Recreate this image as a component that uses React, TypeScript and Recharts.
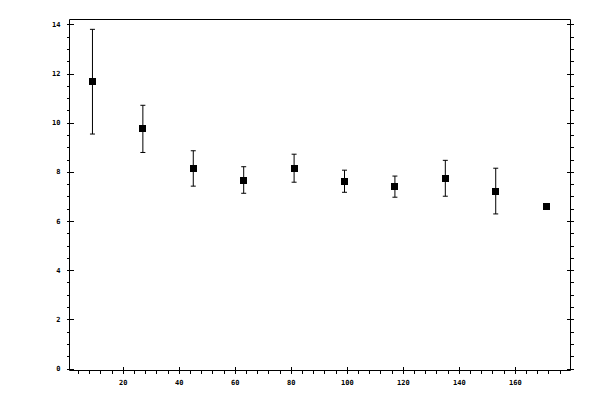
import React from 'react';
import { ScatterChart, Scatter, XAxis, YAxis, ErrorBar } from 'recharts';

const xValues = [9, 27, 45, 63, 81, 99, 117, 135, 153, 171];
const yValues = [11.69, 9.77, 8.16, 7.69, 8.17, 7.64, 7.42, 7.76, 7.24, 6.61];
const yErrors = [2.13, 0.96, 0.72, 0.54, 0.57, 0.45, 0.43, 0.73, 0.93, 0.07];

const xMajorTicks = [20, 40, 60, 80, 100, 120, 140, 160];
const xAllTicks = Array.from({ length: 44 }, (_, i) => (i + 1) * 4);
const yMajorTicks = [0, 2, 4, 6, 8, 10, 12, 14];
const yAllTicks = Array.from({ length: 29 }, (_, i) => i * 0.5);

const xDomain = [0.8, 179.7];
const yDomain = [-0.06, 14.22];

const data = xValues.map((x, i) => ({ x, y: yValues[i], err: yErrors[i] }));

const FONT = '"DejaVu Sans Mono", monospace';

type Side = 'bottom' | 'top' | 'left' | 'right';

const makeTick = (side: Side, majors: number[], showLabel: boolean) => (props: any) => {
  const { x, y, payload } = props;
  const v = payload.value;
  const major = majors.some((m) => Math.abs(m - v) < 1e-6);
  const inn = major ? 4 : 0;
  const out = 3;
  let line;
  let label = null;
  if (side === 'bottom') {
    line = <line x1={x} x2={x} y1={y - inn} y2={y + out} stroke="#000" shapeRendering="crispEdges" />;
    if (showLabel && major)
      label = (
        <text x={x} y={y + 14} textAnchor="middle" fontSize={7} fontWeight="bold" fontFamily={FONT} fill="#000">
          {v}
        </text>
      );
  } else if (side === 'top') {
    line = <line x1={x} x2={x} y1={y - out} y2={y + inn} stroke="#000" shapeRendering="crispEdges" />;
  } else if (side === 'left') {
    line = <line x1={x - out} x2={x + inn} y1={y} y2={y} stroke="#000" shapeRendering="crispEdges" />;
    if (showLabel && major)
      label = (
        <text x={x - 9} y={y + 2} textAnchor="end" fontSize={7} fontWeight="bold" fontFamily={FONT} fill="#000">
          {v}
        </text>
      );
  } else {
    line = <line x1={x - inn} x2={x + out} y1={y} y2={y} stroke="#000" shapeRendering="crispEdges" />;
  }
  return (
    <g>
      {line}
      {label}
    </g>
  );
};

const SquareShape = (props: any) => {
  const { cx, cy } = props;
  const s = 7;
  return <rect x={cx - s / 2} y={cy - s / 2} width={s} height={s} fill="#000" shapeRendering="crispEdges" />;
};

export default function App() {
  return (
    <div style={{ position: 'absolute', left: 0, top: 0, width: 600, height: 400, background: '#fff' }}>
      <ScatterChart
        width={600}
        height={400}
        margin={{ top: 18.5, left: 68.5, right: 28.5, bottom: 28.5 }}
      >
        <XAxis
          xAxisId="b"
          type="number"
          dataKey="x"
          domain={xDomain}
          allowDataOverflow
          ticks={xAllTicks}
          interval={0}
          orientation="bottom"
          height={1}
          tickSize={0}
          tickMargin={0}
          tickLine={false}
          axisLine={{ stroke: '#000' }}
          tick={makeTick('bottom', xMajorTicks, true)}
        />
        <XAxis
          xAxisId="t"
          type="number"
          domain={xDomain}
          allowDataOverflow
          ticks={xAllTicks}
          interval={0}
          orientation="top"
          height={1}
          tickSize={0}
          tickMargin={0}
          tickLine={false}
          axisLine={{ stroke: '#000' }}
          tick={makeTick('top', xMajorTicks, false)}
        />
        <YAxis
          yAxisId="l"
          type="number"
          dataKey="y"
          domain={yDomain}
          allowDataOverflow
          ticks={yAllTicks}
          interval={0}
          orientation="left"
          width={1}
          tickSize={0}
          tickMargin={0}
          tickLine={false}
          axisLine={{ stroke: '#000' }}
          tick={makeTick('left', yMajorTicks, true)}
        />
        <YAxis
          yAxisId="r"
          type="number"
          domain={yDomain}
          allowDataOverflow
          ticks={yAllTicks}
          interval={0}
          orientation="right"
          width={1}
          tickSize={0}
          tickMargin={0}
          tickLine={false}
          axisLine={{ stroke: '#000' }}
          tick={makeTick('right', yMajorTicks, false)}
        />
        <Scatter
          data={data}
          xAxisId="b"
          yAxisId="l"
          dataKey="y"
          fill="#000"
          shape={SquareShape}
          isAnimationActive={false}
        >
          <ErrorBar
            dataKey="err"
            direction="y"
            width={2.5}
            stroke="#000"
            strokeWidth={1}
            isAnimationActive={false}
          />
        </Scatter>
      </ScatterChart>
    </div>
  );
}
